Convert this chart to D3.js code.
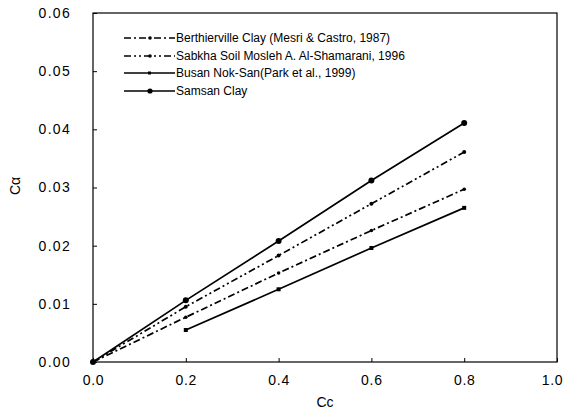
<!DOCTYPE html>
<html>
<head>
<meta charset="utf-8">
<script src="https://cdn.jsdelivr.net/npm/d3@7"></script>
<style>
  body { margin: 0; background: #fff; }
  svg { font-family: "Liberation Sans", Arial, sans-serif; }
</style>
</head>
<body>
<svg id="chart" width="566" height="419"></svg>
<script>
// data
const ccValues = [0, 0.2, 0.4, 0.6, 0.8];
const berthierville = [0, 0.0077, 0.0153, 0.0226, 0.0297];
const sabkha = [0, 0.0095, 0.0183, 0.0272, 0.0361];
const busanX = [0.2, 0.4, 0.6, 0.8];
const busan = [0.0055, 0.0125, 0.0196, 0.0265];
const samsan = [0, 0.0106, 0.0208, 0.0312, 0.0411];

const xTicks = [0, 0.2, 0.4, 0.6, 0.8, 1.0];
const yTicks = [0, 0.01, 0.02, 0.03, 0.04, 0.05, 0.06];

const seriesNames = [
  "Berthierville Clay (Mesri & Castro, 1987)",
  "Sabkha Soil Mosleh A. Al-Shamarani, 1996",
  "Busan Nok-San(Park et al., 1999)",
  "Samsan Clay"
];

const svg = d3.select("#chart");
const m = { left: 93, right: 9, top: 13, bottom: 57 };
const W = 566, H = 419;

const x = d3.scaleLinear().domain([0, 1]).range([m.left, W - m.right]);
const y = d3.scaleLinear().domain([0, 0.06]).range([H - m.bottom, m.top]);

// frame
svg.append("rect")
  .attr("x", x(0)).attr("y", y(0.06))
  .attr("width", x(1) - x(0)).attr("height", y(0) - y(0.06))
  .attr("fill", "none").attr("stroke", "#000").attr("stroke-width", 1.2);

// axes, ticks pointing in
const xAxis = d3.axisBottom(x).tickValues(xTicks).tickFormat(d3.format(".1f"))
  .tickSizeInner(-4).tickSizeOuter(0).tickPadding(13);
const gx = svg.append("g").attr("transform", `translate(0,${y(0)})`).call(xAxis);
const yAxis = d3.axisLeft(y).tickValues(yTicks).tickFormat(d3.format(".2f"))
  .tickSizeInner(-4).tickSizeOuter(0).tickPadding(22);
const gy = svg.append("g").attr("transform", `translate(${x(0)},0)`).call(yAxis);
[gx, gy].forEach(g => {
  g.select(".domain").remove();
  g.selectAll("text").attr("font-size", 14).attr("fill", "#000")
    .attr("font-family", "Liberation Sans, Arial, sans-serif");
  g.selectAll("line").attr("stroke", "#000");
});
gy.selectAll("text").attr("letter-spacing", 1.3);
gx.selectAll("text").attr("letter-spacing", 0.7);
// last x label sits inside the window edge like the reference
gx.selectAll(".tick text").filter(d => d === 1).attr("dx", -5);

svg.append("text").attr("x", (x(0) + x(1)) / 2).attr("y", 407)
  .attr("text-anchor", "middle").attr("font-size", 14).text("Cc");
svg.append("text").attr("transform", "translate(20,186) rotate(-90)")
  .attr("text-anchor", "middle").attr("font-size", 14).text("Cα");

const line = d3.line().x(d => x(d[0])).y(d => y(d[1]));

const series = [
  { name: seriesNames[0], pts: d3.zip(ccValues, berthierville), dash: "7,3,2,3", mark: "dot", r: 1.8 },
  { name: seriesNames[1], pts: d3.zip(ccValues, sabkha), dash: "7,3,2,3,2,3", mark: "dot", r: 2 },
  { name: seriesNames[2], pts: d3.zip(busanX, busan), dash: null, mark: "sq", r: 2 },
  { name: seriesNames[3], pts: d3.zip(ccValues, samsan), dash: null, mark: "dot", r: 3 }
];

series.forEach(s => {
  svg.append("path").datum(s.pts).attr("d", line)
    .attr("fill", "none").attr("stroke", "#000").attr("stroke-width", 1.7)
    .attr("stroke-dasharray", s.dash);
  s.pts.forEach(p => {
    if (s.mark === "sq") {
      svg.append("rect").attr("x", x(p[0]) - s.r).attr("y", y(p[1]) - s.r)
        .attr("width", s.r * 2).attr("height", s.r * 2).attr("fill", "#000");
    } else {
      svg.append("circle").attr("cx", x(p[0])).attr("cy", y(p[1])).attr("r", s.r).attr("fill", "#000");
    }
  });
});

// legend
const legY = [38, 56, 73, 91];
series.forEach((s, i) => {
  const g = svg.append("g").attr("transform", `translate(0,${legY[i]})`);
  g.append("line").attr("x1", 124).attr("x2", 175).attr("y1", 0).attr("y2", 0)
    .attr("stroke", "#000").attr("stroke-width", 1.5).attr("stroke-dasharray", s.dash);
  if (s.mark === "sq") {
    g.append("rect").attr("x", 148).attr("y", -1.5).attr("width", 3).attr("height", 3);
  } else {
    g.append("circle").attr("cx", 150).attr("cy", 0).attr("r", s.r === 3 ? 2.6 : 1.8);
  }
  g.append("text").attr("x", 176).attr("y", 4).attr("font-size", 12).text(s.name);
});
</script>
</body>
</html>
